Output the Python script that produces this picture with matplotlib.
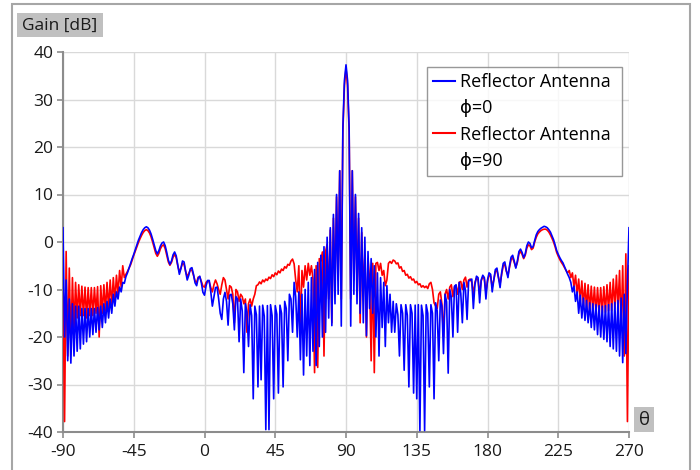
import numpy as np
import matplotlib
matplotlib.use("Agg")
import matplotlib.pyplot as plt
from matplotlib.lines import Line2D
from matplotlib.patches import Rectangle

plt.rcParams['font.family'] = ['Open Sans', 'DejaVu Sans']
plt.rcParams['axes.unicode_minus'] = False

# theta [deg], 1 degree steps from -90 to 270
theta = np.arange(-90, 271)

# gain [dB], phi = 0
gain_phi0 = [
    3, -20, -8, -25, -12, -25.5, -13, -24, -13.5, -23,                      # -90
    -13.5, -22.5, -14, -21.5, -14, -21, -14, -20, -14, -19.5,               # -80
    -14, -19, -13.8, -18.5, -13.5, -18, -13, -17, -12.5, -16,               # -70
    -12, -15, -11, -13.5, -10.5, -12, -9.5, -10.5, -8.5, -8.7,              # -60
    -7.3, -6.5, -5.5, -4.5, -3.5, -2.6, -1.6, -0.6, 0.4, 1.2,               # -50
    2.0, 2.6, 3.0, 3.2, 3.0, 2.5, 1.7, 0.6, -0.6, -1.8,                     # -40
    -2.5, -1.8, -0.8, -0.2, 0.0, -0.8, -2.2, -3.8, -4.7, -4.0,              # -30
    -2.7, -2.1, -2.9, -4.8, -6.8, -5.6, -4.0, -4.2, -6.2, -8.0,             # -20
    -7.0, -5.6, -5.4, -6.8, -8.6, -9.2, -7.6, -7.2, -8.6, -10.6,            # -10
    -11.2, -9.2, -8.1, -8.1, -10.5, -13.5, -11.5, -9.6, -9.5, -12.0,        # 0
    -15.0, -16.3, -12.0, -10.6, -12.5, -17.5, -11.2, -11.0, -13.0, -18.5,   # 10
    -11.5, -12.0, -21.0, -12.0, -14.5, -27.5, -13.0, -14.8, -22.0, -13.2,   # 20
    -15.5, -33.0, -13.5, -15.3, -30.5, -13.5, -29.0, -13.3, -15.6, -39.5,   # 30
    -13.4, -39.5, -13.2, -15.5, -33.0, -13.4, -15.2, -31.8, -13.3, -15.0,   # 40
    -30.5, -12.5, -14.0, -25.0, -11.0, -12.0, -19.0, -8.5, -11.5, -20.0,    # 50
    -10.5, -24.8, -11.0, -28.0, -10.0, -24.0, -8.5, -26.0, -7.5, -23.0,     # 60
    -5.8, -26.0, -4.3, -22.0, -2.8, -20.0, -1.0, -19.0, 1.0, -16.0,         # 70
    3.0, -17.6, 5.8, -13.0, 10.0, -11.0, 15.0, -17.7, 24.0, 34.0,           # 80
    37.3, 34.0, 24.0, -17.7, 15.0, -11.0, 10.0, -13.0, 6.0, -15.0,          # 90
    3.0, -17.0, 1.0, -19.7, -2.0, -14.0, -3.5, -15.0, -5.0, -20.0,          # 100
    -6.5, -24.0, -7.5, -18.0, -8.5, -22.0, -9.2, -17.0, -11.0, -19.0,       # 110
    -12.5, -19.0, -13.0, -15.3, -24.0, -13.2, -15.0, -27.0, -13.2, -15.4,   # 120
    -30.5, -13.2, -15.0, -31.8, -13.3, -33.0, -13.2, -39.7, -13.3, -15.5,   # 130
    -39.7, -13.2, -15.0, -30.5, -13.2, -15.0, -33.0, -12.8, -14.5, -25.0,   # 140
    -12.2, -13.5, -23.5, -11.0, -12.6, -27.6, -10.0, -11.6, -20.0, -9.3,    # 150
    -9.0, -19.0, -8.5, -10.8, -17.0, -8.5, -10.2, -16.3, -8.2, -8.0,        # 160
    -7.8, -14.0, -9.0, -7.2, -7.5, -12.8, -8.0, -7.0, -7.5, -12.0,          # 170
    -8.0, -6.5, -6.8, -10.5, -8.0, -5.8, -5.5, -7.5, -9.6, -6.5,            # 180
    -4.5, -4.2, -6.0, -7.5, -5.0, -3.2, -2.8, -4.0, -5.5, -4.0,             # 190
    -2.0, -1.5, -2.2, -3.3, -2.5, -0.8, 0.0, -0.3, -1.2, -1.0,              # 200
    0.3, 1.5, 2.2, 2.6, 2.9, 3.1, 3.3, 3.2, 3.0, 2.6,                       # 210
    2.1, 1.3, 0.5, -0.6, -1.8, -2.6, -3.3, -3.9, -4.4, -5.2,                # 220
    -6.0, -6.8, -7.5, -8.5, -10.5, -9.3, -12.5, -10.5, -15.0, -11.2,        # 230
    -16.0, -11.8, -16.5, -12.3, -17.0, -12.8, -18.0, -13.0, -18.5, -13.2,   # 240
    -19.5, -13.4, -20.0, -13.5, -20.5, -13.4, -21.0, -13.2, -22.0, -13.0,   # 250
    -22.5, -12.7, -23.0, -12.3, -24.0, -11.8, -25.4, -11.0, -23.5, -9.0,    # 260
    3.0,                                                                    # 270
]

# gain [dB], phi = 90
gain_phi90 = [
    -8, -37.8, -2, -24, -5.5, -22, -7.5, -18, -8.5, -16,                    # -90
    -9, -15.5, -9.3, -15.5, -9.5, -16, -9.6, -15.5, -9.6, -15.5,            # -80
    -9.6, -15, -9.4, -20, -9.2, -15, -9, -14.5, -8.5, -14,                  # -70
    -8, -13.5, -7.5, -12.5, -7, -11, -6, -9.5, -5, -7.5,                    # -60
    -6.8, -6.2, -5.5, -4.8, -3.8, -2.8, -1.9, -1.0, -0.1, 0.7,              # -50
    1.4, 2.0, 2.4, 2.6, 2.4, 1.9, 1.1, 0.0, -1.2, -2.4,                     # -40
    -3.0, -2.4, -1.4, -0.8, -0.6, -1.4, -2.8, -4.2, -4.9, -4.3,             # -30
    -3.2, -2.6, -3.3, -5.0, -6.3, -5.5, -4.5, -4.7, -6.2, -7.3,             # -20
    -6.6, -5.9, -5.9, -7.0, -8.2, -8.5, -7.4, -7.4, -8.3, -9.3,             # -10
    -9.5, -8.5, -8.2, -8.4, -9.6, -10.5, -9.0, -8.0, -8.8, -10.0,           # 0
    -11.0, -9.0, -7.5, -8.0, -10.0, -12.0, -9.2, -9.5, -11.0, -17.0,        # 10
    -10.0, -10.5, -12.5, -11.0, -11.5, -13.0, -12.0, -19.0, -13.0, -12.0,   # 20
    -13.5, -12.0, -11.0, -9.2, -9.0, -8.4, -8.8, -8.0, -8.4, -7.8,          # 30
    -8.1, -7.4, -7.7, -6.9, -7.3, -6.5, -6.9, -6.1, -6.5, -5.7,             # 40
    -6.0, -5.2, -5.5, -4.7, -4.9, -4.0, -3.6, -4.6, -8.0, -10.5,            # 50
    -5.0, -18.0, -6.0, -9.5, -5.0, -8.0, -4.5, -7.0, -5.0, -7.8,            # 60
    -27.5, -5.0, -26.4, -3.5, -4.0, -2.1, -24.0, -2.0, -0.5, -12.0,         # 70
    2.5, -17.0, 5.0, -9.0, 9.5, -8.0, 15.0, -12.0, 23.0, 33.0,              # 80
    36.5, 33.0, 23.0, -12.0, 15.0, -8.0, 9.5, -9.0, 5.0, -17.0,             # 90
    2.0, -10.0, -3.0, -20.0, -3.5, -8.0, -25.0, -4.5, -27.5, -4.5,          # 100
    -4.3, -6.0, -4.5, -7.0, -6.0, -9.2, -8.0, -4.5, -4.1, -4.5,             # 110
    -3.8, -4.0, -4.6, -4.4, -5.5, -5.2, -6.2, -6.0, -7.0, -6.8,             # 120
    -7.6, -7.3, -8.0, -7.8, -8.6, -8.3, -9.0, -8.8, -9.5, -9.2,             # 130
    -9.6, -9.3, -9.8, -8.8, -8.5, -10.0, -12.8, -13.5, -14.0, -11.0,        # 140
    -10.5, -13.0, -20.0, -11.0, -10.0, -12.0, -9.5, -9.0, -11.5, -9.5,      # 150
    -9.2, -11.0, -8.5, -8.3, -10.0, -8.0, -7.4, -9.5, -8.0, -7.8,           # 160
    -8.5, -11.0, -8.5, -7.6, -8.0, -11.0, -8.2, -7.3, -7.8, -10.5,          # 170
    -8.3, -7.0, -7.2, -9.5, -8.0, -6.2, -6.0, -7.5, -8.8, -6.8,             # 180
    -5.0, -4.7, -6.2, -7.0, -5.3, -3.7, -3.3, -4.3, -5.3, -4.3,             # 190
    -2.5, -2.0, -2.6, -3.5, -2.8, -1.3, -0.6, -0.8, -1.6, -1.3,             # 200
    0.0, 1.0, 1.7, 2.1, 2.4, 2.6, 2.7, 2.7, 2.5, 2.1,                       # 210
    1.5, 0.8, 0.0, -1.0, -2.2, -3.0, -3.7, -4.3, -4.8, -5.4,                # 220
    -6.0, -6.5, -6.0, -7.5, -6.5, -9.5, -7.0, -11.0, -7.8, -12.5,           # 230
    -8.2, -13.5, -8.7, -14.0, -9.0, -14.5, -9.3, -14.5, -9.5, -15.0,        # 240
    -9.6, -15.0, -9.6, -15.0, -9.4, -14.8, -9.0, -14.5, -8.5, -14.5,        # 250
    -7.8, -14.0, -7.0, -14.0, -6.0, -18.0, -5.0, -24.0, -2.5, -37.8,        # 260
    -5.0,                                                                   # 270
]

x_ticks = [-90, -45, 0, 45, 90, 135, 180, 225, 270]
y_ticks = [-40, -30, -20, -10, 0, 10, 20, 30, 40]

W, H = 700, 470
fig = plt.figure(figsize=(7, 4.7), dpi=100)
ax = fig.add_axes([63 / W, 1 - 432 / H, (629 - 63) / W, (432 - 52) / H])

ax.plot(theta, gain_phi90, color='#ff0000', lw=1.2, zorder=3)
ax.plot(theta, gain_phi0, color='#0000ff', lw=1.2, zorder=4)

ax.set_xlim(-90, 270)
ax.set_ylim(-40, 40)
ax.set_xticks(x_ticks)
ax.set_yticks(y_ticks)
ax.grid(True, color='#d9d9d9', lw=1.0, zorder=0)
ax.set_axisbelow(True)

for s in ['top', 'right']:
    ax.spines[s].set_visible(False)
for s in ['left', 'bottom']:
    ax.spines[s].set_color('#8c8c8c')
    ax.spines[s].set_linewidth(1.5)
ax.tick_params(axis='both', colors='#8c8c8c', length=4, width=1.2,
               labelcolor='#1a1a1a', labelsize=12.5)
ax.tick_params(axis='x', pad=5)
ax.tick_params(axis='y', pad=3)

# legend: line with label, then a blank entry for the second line
handles = [Line2D([], [], color='#0000ff', lw=1.5),
           Line2D([], [], color='none'),
           Line2D([], [], color='#ff0000', lw=1.5),
           Line2D([], [], color='none')]
labels = ['Reflector Antenna ', 'ϕ=0', 'Reflector Antenna ', 'ϕ=90']
leg = fig.legend(handles, labels, loc='upper left',
                 bbox_to_anchor=(427 / W, 1 - 67 / H), borderaxespad=0,
                 fontsize=13, frameon=True, fancybox=False, handlelength=1.2,
                 handletextpad=0.3, labelspacing=0.45, borderpad=0.35)
leg.get_frame().set_edgecolor('#7f7f7f')
leg.get_frame().set_linewidth(1.0)
leg.set_zorder(10)

# outer frame
fig.patches.append(Rectangle((12 / W, -0.1), (690 - 12) / W, 1.1 - 4 / H,
                             transform=fig.transFigure, fill=False,
                             edgecolor='#a6a6a6', lw=1.5))

# axis title boxes
fig.patches.append(Rectangle((17 / W, 1 - 37 / H), 86 / W, 24 / H,
                             transform=fig.transFigure, facecolor='#c0c0c0',
                             edgecolor='none'))
fig.text(60 / W, 1 - 25.5 / H, 'Gain [dB]', ha='center', va='center',
         fontsize=12.5, color='#1a1a1a')
fig.patches.append(Rectangle((634 / W, 1 - 432 / H), 20 / W, 25 / H,
                             transform=fig.transFigure, facecolor='#c0c0c0',
                             edgecolor='none'))
fig.text(644 / W, 1 - 420 / H, 'θ', ha='center', va='center',
         fontsize=13.5, color='#1a1a1a')

fig.savefig('out.png', dpi=100)
